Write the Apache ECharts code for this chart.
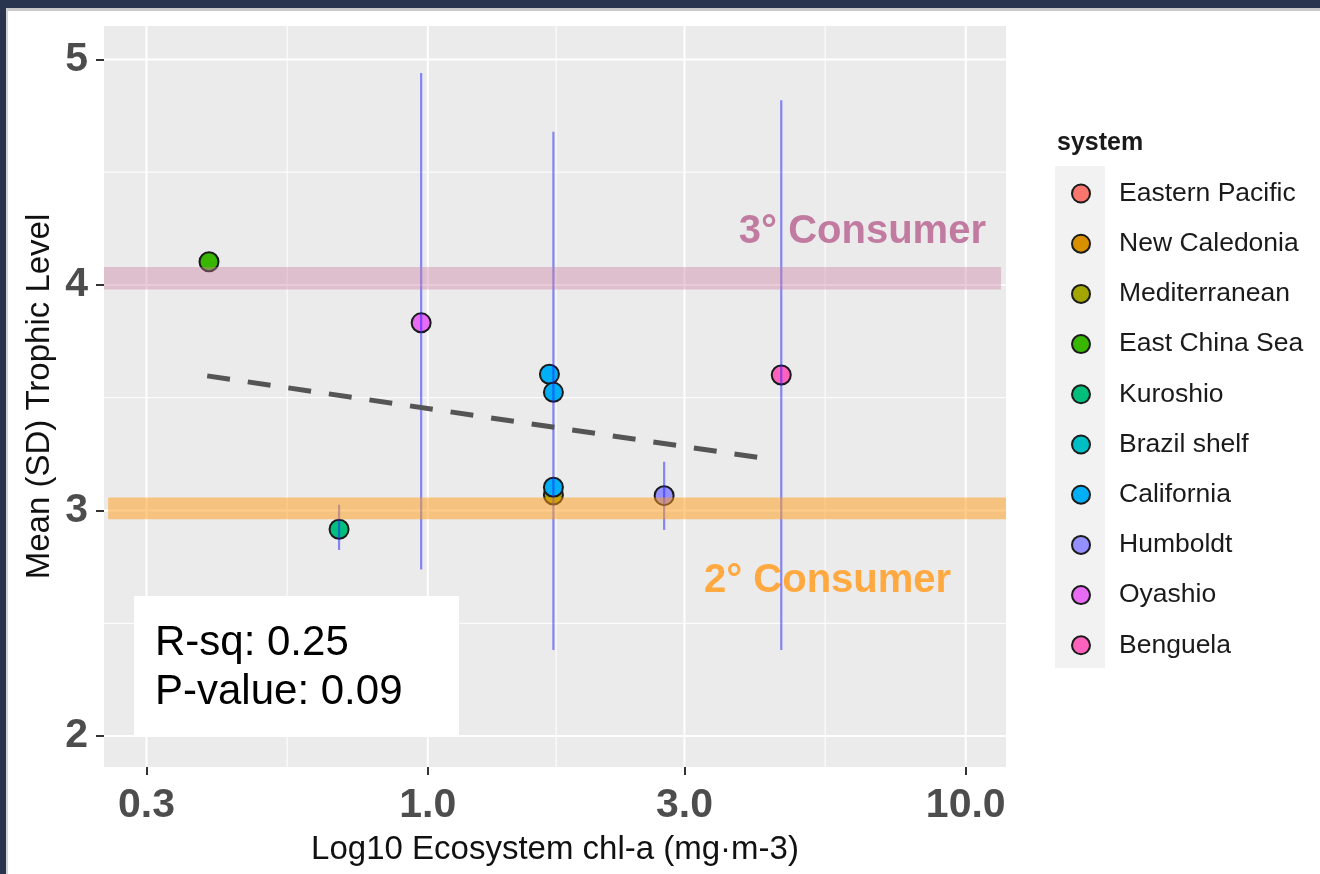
<!DOCTYPE html>
<html>
<head>
<meta charset="utf-8">
<script src="https://cdn.jsdelivr.net/npm/echarts@6/dist/echarts.min.js"></script>
<style>
  html, body { margin: 0; padding: 0; background: #29344F; width: 1320px; height: 874px; overflow: hidden; }
  #paper { position: absolute; left: 6px; top: 8px; right: 0; bottom: 0; background: #fff;
           border-top: 3px solid #c9c9c9; border-left: 2px solid #d4d4d4; }
  #chart { position: absolute; left: 0; top: 0; width: 1320px; height: 874px; }
</style>
</head>
<body>
<div id="paper"></div>
<div id="chart"></div>
<script>
// ---------- data ----------
const systems = ['Eastern Pacific', 'New Caledonia', 'Mediterranean', 'East China Sea', 'Kuroshio',
                 'Brazil shelf', 'California', 'Humboldt', 'Oyashio', 'Benguela'];
const systemColors = ['#F8766D', '#D89000', '#A3A500', '#39B600', '#00BF7D',
                      '#00BFC4', '#00B0F6', '#9590FF', '#E76BF3', '#FF62BC'];

// points: system, chl-a (mg m-3), mean trophic level
const pointSystem = ['East China Sea', 'Kuroshio', 'Oyashio', 'Mediterranean', 'California', 'California', 'California', 'Humboldt', 'Benguela'];
const pointChl    = [0.392, 0.684, 0.972, 1.712, 1.683, 1.712, 1.712, 2.75, 4.54];
const pointTL     = [4.103, 2.917, 3.832, 3.069, 3.604, 3.524, 3.103, 3.066, 3.601];

// SD error bars
const errChl  = [0.684, 0.972, 1.712, 2.75, 4.54];
const errLow  = [2.825, 2.739, 2.382, 2.914, 2.382];
const errHigh = [3.026, 4.94, 4.679, 3.216, 4.819];

// regression line ends
const regChl = [0.389, 4.34];
const regTL  = [3.597, 3.227];

// consumer bands
const bandNames = ['3° Consumer', '2° Consumer'];
const bandChlFrom = [0.2501, 0.2546];
const bandChlTo   = [11.63, 11.88];
const bandLow  = [3.98, 2.961];
const bandHigh = [4.08, 3.058];

// axes
const xMin = 0.2501, xMax = 11.88;
const yMin = 1.863, yMax = 5.148;
const xBreaks = [0.3, 1, 3, 10];
const xBreakLabels = ['0.3', '1.0', '3.0', '10.0'];
const xMinorBreaks = [0.5477, 1.7321, 5.4772];
const yBreaks = [2, 3, 4, 5];
const yMinorBreaks = [2.5, 3.5, 4.5];

const statLines = ['R-sq: 0.25', 'P-value: 0.09'];

// ---------- chart ----------
const L = Math.log10;
const FONT = '"Liberation Sans", Arial, sans-serif';
const chart = echarts.init(document.getElementById('chart'), null, { renderer: 'canvas' });

const series = [];

// grid lines
const gridData = [];
xBreaks.forEach(v => gridData.push([L(v), 0, 2]));
xMinorBreaks.forEach(v => gridData.push([L(v), 0, 1]));
yBreaks.forEach(v => gridData.push([v, 1, 2]));
yMinorBreaks.forEach(v => gridData.push([v, 1, 1]));
series.push({
  type: 'custom', name: 'grid', silent: true, z: 1, clip: true,
  data: gridData,
  renderItem: function (params, api) {
    const v = api.value(0), dir = api.value(1), w = api.value(2);
    let p1, p2;
    if (dir === 0) { p1 = api.coord([v, yMin]); p2 = api.coord([v, yMax]); }
    else { p1 = api.coord([L(xMin), v]); p2 = api.coord([L(xMax), v]); }
    return { type: 'line', shape: { x1: p1[0], y1: p1[1], x2: p2[0], y2: p2[1] },
             style: { stroke: '#ffffff', lineWidth: w } };
  }
});

// points per system
systems.forEach((s, i) => {
  const data = [];
  pointSystem.forEach((ps, j) => { if (ps === s) data.push([L(pointChl[j]), pointTL[j]]); });
  series.push({
    type: 'scatter', name: s, z: 3, data: data,
    symbol: 'circle', symbolSize: 19,
    itemStyle: { color: systemColors[i], borderColor: '#1a1a1a', borderWidth: 2, opacity: 1 },
    emphasis: { disabled: true }
  });
});

// error bars
series.push({
  type: 'custom', name: 'sd', silent: true, z: 5,
  data: errChl.map((c, i) => [L(c), errLow[i], errHigh[i]]),
  encode: { x: 0, y: [1, 2] },
  renderItem: function (params, api) {
    const p1 = api.coord([api.value(0), api.value(1)]);
    const p2 = api.coord([api.value(0), api.value(2)]);
    return { type: 'line', shape: { x1: p1[0], y1: p1[1], x2: p2[0], y2: p2[1] },
             style: { stroke: 'rgba(30,30,255,0.5)', lineWidth: 2.2 } };
  }
});

// regression line
series.push({
  type: 'line', name: 'fit', silent: true, z: 6,
  data: regChl.map((c, i) => [L(c), regTL[i]]),
  symbol: 'none',
  lineStyle: { color: '#555555', width: 5, type: [23, 18] }
});

// bands
const bandFill = ['rgba(199,124,160,0.4)', 'rgba(255,155,20,0.5)'];
series.push({
  type: 'custom', name: 'bands', silent: true, z: 7, clip: true,
  data: bandNames.map((n, i) => [L(bandChlFrom[i]), L(bandChlTo[i]), bandLow[i], bandHigh[i], i]),
  encode: { x: [0, 1], y: [2, 3] },
  renderItem: function (params, api) {
    const a = api.coord([api.value(0), api.value(3)]);
    const b = api.coord([api.value(1), api.value(2)]);
    return { type: 'rect', shape: { x: a[0], y: a[1], width: b[0] - a[0], height: b[1] - a[1] },
             style: { fill: bandFill[api.value(4)] } };
  }
});

const option = {
  animation: false,
  textStyle: { fontFamily: FONT },
  grid: { left: 104, top: 26, width: 902, height: 741, show: true, backgroundColor: '#EBEBEB', borderWidth: 0 },
  xAxis: {
    type: 'value', min: L(xMin), max: L(xMax),
    name: 'Log10 Ecosystem chl-a (mg·m-3)', nameLocation: 'middle', nameGap: 66,
    nameTextStyle: { fontSize: 33, color: '#111', fontFamily: FONT },
    axisLine: { show: false, onZero: false },
    splitLine: { show: false },
    axisTick: { show: true, length: 8, lineStyle: { color: '#333', width: 2 }, customValues: xBreaks.map(L) },
    axisLabel: {
      customValues: xBreaks.map(L), margin: 18,
      fontSize: 41, fontWeight: 'bold', color: '#4D4D4D', fontFamily: FONT,
      formatter: function (v) {
        let best = 0;
        xBreaks.forEach((b, i) => { if (Math.abs(L(b) - v) < Math.abs(L(xBreaks[best]) - v)) best = i; });
        return xBreakLabels[best];
      }
    }
  },
  yAxis: {
    type: 'value', min: yMin, max: yMax,
    name: 'Mean (SD) Trophic Level', nameLocation: 'middle', nameGap: 48, nameMoveOverlap: false,
    nameTextStyle: { fontSize: 33, color: '#111', fontFamily: FONT },
    axisLine: { show: false, onZero: false },
    splitLine: { show: false },
    axisTick: { show: true, length: 8, lineStyle: { color: '#333', width: 2 }, customValues: yBreaks },
    axisLabel: {
      customValues: yBreaks, margin: 16,
      fontSize: 41, fontWeight: 'bold', color: '#4D4D4D', fontFamily: FONT,
      formatter: v => String(Math.round(v))
    }
  },
  legend: {
    data: systems, orient: 'vertical', left: 1071, top: 180, padding: 0,
    itemWidth: 18, itemHeight: 18, itemGap: 23.2, icon: 'circle',
    selectedMode: false,
    itemStyle: { borderColor: '#1a1a1a', borderWidth: 2 },
    textStyle: { fontSize: 26.5, color: '#1a1a1a', fontFamily: FONT, lineHeight: 26, padding: [0, 0, 0, 24] }
  },
  graphic: [
    { type: 'rect', shape: { x: 1055, y: 166, width: 50, height: 502 }, style: { fill: '#F2F2F2' }, z: -1, silent: true },
    { type: 'text', x: 1057, y: 143, z: 10, silent: true,
      style: { text: 'system', font: 'bold 25px ' + FONT, fill: '#1a1a1a', verticalAlign: 'middle' } },
    { type: 'rect', shape: { x: 134, y: 596, width: 325, height: 141 }, style: { fill: '#ffffff' }, z: 10, silent: true },
    { type: 'text', x: 155, y: 643, z: 11, silent: true,
      style: { text: statLines[0], font: '42px ' + FONT, fill: '#000', verticalAlign: 'middle' } },
    { type: 'text', x: 155, y: 692, z: 11, silent: true,
      style: { text: statLines[1], font: '42px ' + FONT, fill: '#000', verticalAlign: 'middle' } },
    { type: 'text', x: 986, y: 232, z: 3, silent: true,
      style: { text: bandNames[0], font: 'bold 40px ' + FONT, fill: '#C27BA0', align: 'right', verticalAlign: 'middle' } },
    { type: 'text', x: 704, y: 581, z: 3, silent: true,
      style: { text: bandNames[1], font: 'bold 40px ' + FONT, fill: '#FFA940', align: 'left', verticalAlign: 'middle' } }
  ],
  series: series
};
chart.setOption(option);
</script>
</body>
</html>
